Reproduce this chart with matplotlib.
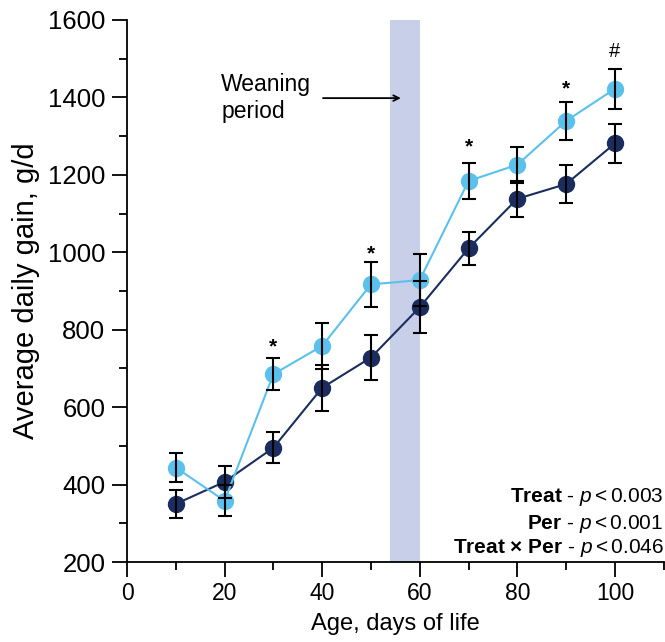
import matplotlib
matplotlib.use("Agg")
import matplotlib.pyplot as plt
from matplotlib.ticker import MultipleLocator

plt.rcParams['font.family'] = ['Liberation Sans', 'DejaVu Sans']
plt.rcParams['mathtext.fontset'] = 'custom'
plt.rcParams['mathtext.rm'] = 'Liberation Sans'
plt.rcParams['mathtext.it'] = 'Liberation Sans:italic'
plt.rcParams['mathtext.bf'] = 'Liberation Sans:bold'

age = [10, 20, 30, 40, 50, 60, 70, 80, 90, 100]
control = [350, 407, 495, 650, 728, 858, 1010, 1138, 1176, 1281]
control_err = [36, 41, 40, 60, 57, 67, 43, 46, 50, 50]
treated = [444, 358, 685, 758, 917, 928, 1184, 1226, 1339, 1422]
treated_err = [37, 40, 42, 59, 58, 68, 46, 46, 50, 51]
sig_x = [30, 50, 70, 90, 100]
sig_y = [773, 1012, 1288, 1438, 1525]
sig_mark = ['*', '*', '*', '*', '#']
weaning = (54, 60)
stats_lines = [r"$\mathbf{Treat}$ - $\mathit{p} < 0.003$",
               r"$\mathbf{Per}$ - $\mathit{p} < 0.001$",
               r"$\mathbf{Treat\ ×\ Per}$ - $\mathit{p} < 0.046$"]

dark = '#1b2d5f'
light = '#5bc1ec'

fig = plt.figure(figsize=(6.65, 6.42), dpi=100)
ax = fig.add_axes([0.191, 0.1246, 0.807, 0.8444])

ax.axvspan(weaning[0], weaning[1], color='#c8cfe8', lw=0, zorder=0)

ax.plot(age, control, '-o', color=dark, lw=1.5, ms=11.5, zorder=3)
ax.plot(age, treated, '-o', color=light, lw=1.5, ms=11.5, zorder=4)
ax.errorbar(age, control, yerr=control_err, fmt='none', ecolor='black',
            elinewidth=1.5, capsize=5, capthick=1.5, zorder=5)
ax.errorbar(age, treated, yerr=treated_err, fmt='none', ecolor='black',
            elinewidth=1.5, capsize=5, capthick=1.5, zorder=5)

for sx, sy, sm in zip(sig_x, sig_y, sig_mark):
    ax.annotate(sm, (sx, sy), xytext=(0, -8.5 if sm == '*' else -5.5),
                textcoords='offset points', ha='center', va='baseline',
                fontsize=15 if sm == '*' else 14.5,
                fontweight='bold' if sm == '*' else 'normal')

ax.annotate('', xy=(56.7, 1398), xytext=(39.6, 1398),
            arrowprops=dict(arrowstyle='->', color='black', lw=1.3))
ax.text(19.3, 1398, 'Weaning\nperiod', ha='left', va='center', fontsize=16.5,
        linespacing=1.2)

stat_y = [0.119, 0.071, 0.025]
for line, sy in zip(stats_lines, stat_y):
    ax.text(1.0, sy, line, transform=ax.transAxes,
            ha='right', va='center', fontsize=15)

ax.set_xlim(0, 110)
ax.set_ylim(200, 1600)
ax.xaxis.set_major_locator(MultipleLocator(20))
ax.xaxis.set_minor_locator(MultipleLocator(10))
ax.yaxis.set_major_locator(MultipleLocator(200))
ax.yaxis.set_minor_locator(MultipleLocator(100))
ax.set_xticks([0, 20, 40, 60, 80, 100])
ax.tick_params(which='major', length=10.5, width=1.3, direction='out')
ax.tick_params(which='minor', length=6, width=1.3, direction='out')
ax.tick_params(axis='x', which='major', labelsize=16.5, pad=4)
ax.tick_params(axis='y', which='major', labelsize=18.5, pad=5)
for s in ['top', 'right']:
    ax.spines[s].set_visible(False)
for s in ['left', 'bottom']:
    ax.spines[s].set_linewidth(1.3)

ax.set_xlabel('Age, days of life', fontsize=17, labelpad=6)
ax.set_ylabel('Average daily gain, g/d', fontsize=21, labelpad=6)

fig.savefig('out.png', dpi=100)
